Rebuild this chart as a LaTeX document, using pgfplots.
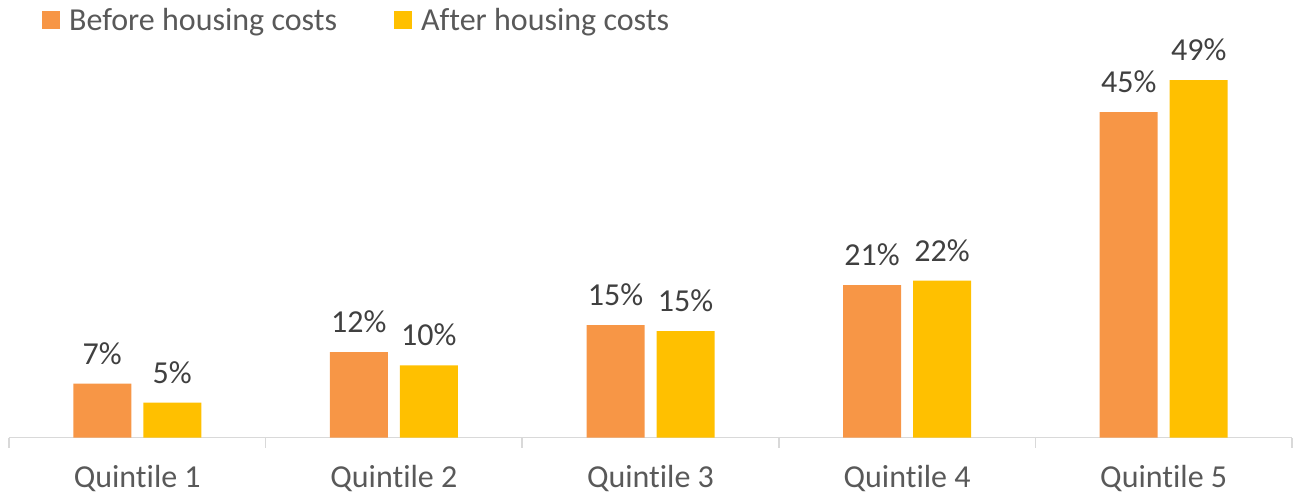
\documentclass[border=0pt]{standalone}
\usepackage{pgfplots}
\pgfplotsset{compat=1.18}
\usepackage{fontspec}
\setmainfont{Carlito}[Ligatures={NoCommon,NoDiscretionary,NoContextual,NoRare}]
\definecolor{cOrange}{HTML}{F79646}
\definecolor{cYellow}{HTML}{FFC000}
\definecolor{cAxis}{HTML}{D9D9D9}
\definecolor{cText}{HTML}{595959}
\definecolor{cLabel}{HTML}{404040}
\begin{document}
\begin{tikzpicture}
\begin{axis}[
  scale only axis, width=1283pt, height=382.5pt,
  xmin=-0.5, xmax=4.5, ymin=0, ymax=52.43,
  enlargelimits=false, clip=false,
  ybar=12pt, bar width=58pt,
  axis x line*=bottom, axis y line=none,
  x axis line style={draw=cAxis, line width=1.5pt, -},
  xtick={0,1,2,3,4},
  xticklabels={Quintile 1,Quintile 2,Quintile 3,Quintile 4,Quintile 5},
  major tick length=0pt,
  xticklabel style={font=\fontsize{32}{38}\selectfont, text=cText, inner sep=0pt, anchor=north, yshift=-28pt},
  extra x ticks={-0.5,0.5,1.5,2.5,3.5,4.5},
  extra x tick labels={},
  extra x tick style={major tick length=10pt, tick align=outside, tick style={draw=cAxis, line width=1.5pt}},
  point meta=explicit symbolic,
  nodes near coords={\pgfplotspointmeta},
  every node near coord/.append style={font=\fontsize{32}{38}\selectfont, text=cLabel, inner sep=0pt, anchor=south, yshift=19pt},
  legend columns=2,
  legend cell align=left,
  legend image code/.code={\fill[#1,draw=none] (0pt,-9pt) rectangle (18pt,9pt);},
  legend style={at={(rel axis cs:0,1)}, anchor=west, xshift=33pt, yshift=35pt,
    draw=none, fill=none, inner sep=0pt, font=\fontsize{32}{38}\selectfont, text=cText,
    nodes={inner sep=0pt},
    /tikz/every odd column/.append style={column sep=9pt},
    /tikz/every even column/.append style={column sep=57pt}},
]
\addplot[fill=cOrange, draw=none] coordinates {
  (0,7.4) [7\%]
  (1,11.7) [12\%]
  (2,15.4) [15\%]
  (3,20.9) [21\%]
  (4,44.6) [45\%]
};
\addplot[fill=cYellow, draw=none] coordinates {
  (0,4.8) [5\%]
  (1,9.9) [10\%]
  (2,14.6) [15\%]
  (3,21.5) [22\%]
  (4,49.0) [49\%]
};
\legend{Before housing costs, After housing costs}
\path (rel axis cs:-0.00701,-0.1503) rectangle (rel axis cs:1.00234,1.1438);
\end{axis}
\end{tikzpicture}
\end{document}
